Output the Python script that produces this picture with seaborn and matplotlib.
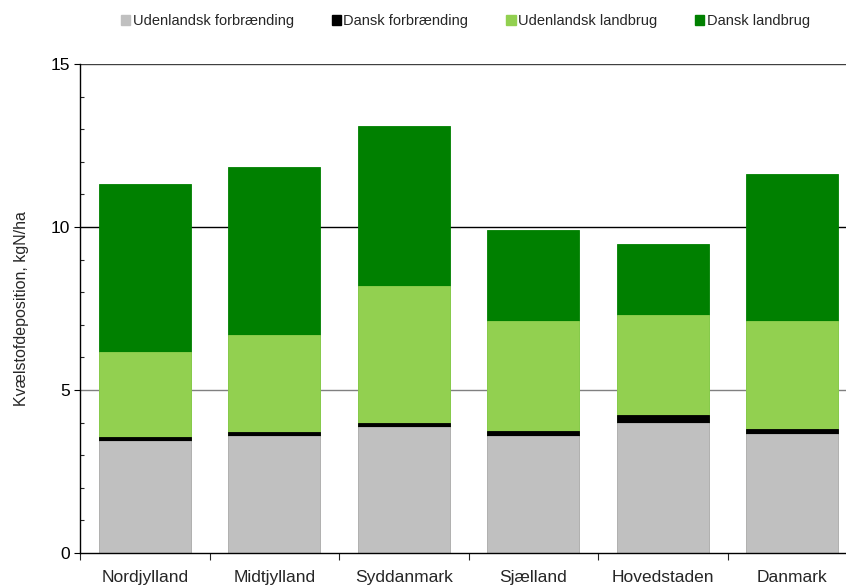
import numpy as np
import pandas as pd
import matplotlib
matplotlib.use("Agg")
import matplotlib.pyplot as plt
import seaborn as sns
from matplotlib.patches import Patch
from matplotlib.ticker import MultipleLocator, FixedLocator

# ==================== DATA ====================
regions = ["Nordjylland", "Midtjylland", "Syddanmark", "Sjælland", "Hovedstaden", "Danmark"]
udenlandsk_forbraending = [3.43, 3.58, 3.85, 3.58, 3.98, 3.65]
dansk_forbraending = [0.13, 0.14, 0.13, 0.16, 0.24, 0.15]
udenlandsk_landbrug = [2.61, 2.97, 4.21, 3.38, 3.08, 3.32]
dansk_landbrug = [5.15, 5.15, 4.91, 2.79, 2.18, 4.51]

series_names = ["Udenlandsk forbrænding", "Dansk forbrænding", "Udenlandsk landbrug", "Dansk landbrug"]
colors = ["#C0C0C0", "#000000", "#92D050", "#008000"]

# ==================== CONFIG ====================
sns.set_theme(style="white")
plt.rcParams["font.family"] = ["Liberation Sans", "DejaVu Sans"]

df = pd.DataFrame({
    "region": regions,
    series_names[0]: udenlandsk_forbraending,
    series_names[1]: dansk_forbraending,
    series_names[2]: udenlandsk_landbrug,
    series_names[3]: dansk_landbrug,
})
# cumulative stacks
cum = df[series_names].cumsum(axis=1)
cum["region"] = df["region"]

fig = plt.figure(figsize=(8.46, 5.85), dpi=100)
ax = fig.add_axes([80 / 846, 32 / 585, 777 / 846, 489 / 585])

# draw tallest layer first so lower layers sit on top
for name, col in reversed(list(zip(series_names, colors))):
    sns.barplot(data=cum, x="region", y=name, color=col, width=0.71,
                saturation=1, ax=ax, edgecolor=col, linewidth=0.6)

ax.set_ylim(0, 15)
ax.set_xlim(-0.5, 5.5)
ax.set_xlabel("")
ax.set_ylabel("Kvælstofdeposition, kgN/ha", fontsize=11.5, labelpad=16)

# grid lines
for yv, c in [(5, "#808080"), (10, "#000000"), (15, "#404040")]:
    ax.axhline(yv, color=c, lw=1.0, zorder=0)

ax.set_yticks([0, 5, 10, 15])
ax.yaxis.set_minor_locator(MultipleLocator(1))
ax.tick_params(axis="y", which="major", direction="out", length=4, width=0.8,
               labelsize=12.5, colors="black", left=True, pad=3)
ax.tick_params(axis="y", which="minor", direction="in", length=3, width=0.8, left=True)

# x: ticks at category boundaries, labels at centres
ax.xaxis.set_major_locator(FixedLocator(np.arange(-0.5, 6.0, 1.0)))
ax.xaxis.set_major_formatter(plt.NullFormatter())
ax.xaxis.set_minor_locator(FixedLocator(np.arange(0, 6)))
ax.set_xticklabels(regions, minor=True)
ax.tick_params(axis="x", which="major", direction="out", length=5, width=0.8, bottom=True)
ax.tick_params(axis="x", which="minor", length=0, labelsize=12.5, pad=12)

for s in ["top", "right"]:
    ax.spines[s].set_visible(False)
for s in ["left", "bottom"]:
    ax.spines[s].set_color("black")
    ax.spines[s].set_linewidth(1.0)

handles = [Patch(facecolor=c, edgecolor=c, label=n) for n, c in zip(series_names, colors)]
fig.legend(handles=handles, loc="upper center", bbox_to_anchor=(0.55, 1.0), ncol=4,
           frameon=False, fontsize=10.5, handlelength=0.65, handleheight=0.65,
           handletextpad=0.15, columnspacing=2.6, borderaxespad=0.55)

fig.savefig("out.png", dpi=100)
